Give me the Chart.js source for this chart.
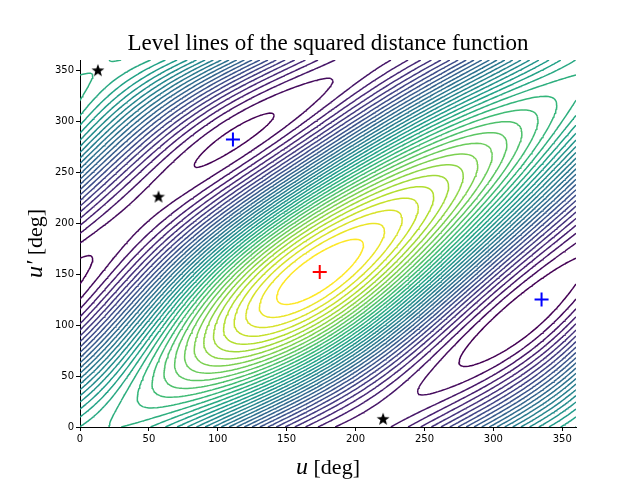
<!DOCTYPE html>
<html><head><meta charset="utf-8">
<script src="https://cdn.jsdelivr.net/npm/chart.js@4/dist/chart.umd.min.js"></script>
<style>html,body{margin:0;background:#fff}#c{width:640px;height:480px}</style>
</head><body><div id="c"><canvas id="cv" width="640" height="480"></canvas></div>
<script>
// ---- data ----
const chartTitle = "Level lines of the squared distance function";
const xTicks = [0,50,100,150,200,250,300,350];
const yTicks = [0,50,100,150,200,250,300,350];
// weights and phases (deg) of the harmonic terms of the distance function
const termWeights = [1.0, 0.26, 0.22, 0.05];
const termPhases  = [22, 184, 163, 250];
const nLevels = 36;
const maxPoint = [[174,152]];
const minPoints = [[111,282],[335,125]];
const starPoints = [[13,350],[57,226],[220,8]];

const D = Math.PI/180;
function f(u,v){
  return termWeights[0]*(1+Math.cos((u-v-termPhases[0])*D))
       + termWeights[1]*(1+Math.cos((u-termPhases[1])*D))
       + termWeights[2]*(1+Math.cos((v-termPhases[2])*D))
       + termWeights[3]*(1+Math.cos((u+v-termPhases[3])*D));
}
const N=181, step=2;
const G=[]; let fmin=1e9,fmax=-1e9;
for(let i=0;i<N;i++){G.push([]);for(let j=0;j<N;j++){const z=f(i*step,j*step);G[i].push(z);fmin=Math.min(fmin,z);fmax=Math.max(fmax,z);}}
const vir=[[68,1,84],[72,40,120],[62,74,137],[49,104,142],[38,130,142],[31,158,137],[53,183,121],[109,205,89],[180,222,44],[253,231,37]];
function viridis(t){t=Math.max(0,Math.min(1,t));const p=t*(vir.length-1),k=Math.min(vir.length-2,Math.floor(p)),r=p-k;
  const c=vir[k].map((a,m)=>Math.round(a+(vir[k+1][m]-a)*r));return `rgb(${c[0]},${c[1]},${c[2]})`;}
const datasets=[];
for(let L=1;L<=nLevels;L++){
  const lv=fmin+(fmax-fmin)*L/(nLevels+1);
  const pts=[];
  for(let i=0;i<N-1;i++)for(let j=0;j<N-1;j++){
    const a=G[i][j],b=G[i+1][j],c=G[i+1][j+1],d=G[i][j+1];
    const x0=i*step,y0=j*step,x1=x0+step,y1=y0+step;
    const cr=[];
    const e=(p,q,P,Q)=>{if((p<lv)!==(q<lv)){const t=(lv-p)/(q-p);cr.push({x:P[0]+(Q[0]-P[0])*t,y:P[1]+(Q[1]-P[1])*t});}};
    e(a,b,[x0,y0],[x1,y0]);e(b,c,[x1,y0],[x1,y1]);e(c,d,[x1,y1],[x0,y1]);e(d,a,[x0,y1],[x0,y0]);
    for(let k=0;k+1<cr.length;k+=2){pts.push(cr[k],cr[k+1],{x:null,y:null});}
  }
  const col=viridis((L-1)/(nLevels-1));
  datasets.push({type:'scatter',data:pts,showLine:true,spanGaps:false,borderColor:col,borderWidth:1.5,pointRadius:0,order:2});
}
function starImg(){const c=document.createElement('canvas');c.width=c.height=14;const g=c.getContext('2d');g.fillStyle='#000';g.beginPath();
  for(let k=0;k<10;k++){const r=k%2?2.8:6.8,a=-Math.PI/2+k*Math.PI/5;g.lineTo(7+r*Math.cos(a),7.5+r*Math.sin(a));}g.closePath();g.fill();return c;}
const toXY=a=>a.map(p=>({x:p[0],y:p[1]}));
datasets.push({type:'scatter',data:toXY(maxPoint),pointStyle:'cross',pointRadius:7,borderColor:'red',borderWidth:2,order:0});
datasets.push({type:'scatter',data:toXY(minPoints),pointStyle:'cross',pointRadius:7,borderColor:'blue',borderWidth:2,order:0});
datasets.push({type:'scatter',data:toXY(starPoints),pointStyle:starImg(),order:0});

const deco={id:'deco',afterDraw(ch){const g=ch.ctx,ca=ch.chartArea;g.save();g.fillStyle='#000';g.textAlign='center';g.textBaseline='alphabetic';
  g.font='23px "Liberation Serif"';g.fillText(chartTitle,(ca.left+ca.right)/2,50);
  const lab=(x,y,rot,main)=>{g.save();g.translate(x,y);g.rotate(rot);
    g.font='italic 24px "Liberation Serif"';const w1=g.measureText(main).width;g.font='22px "Liberation Serif"';const w2=g.measureText(' [deg]').width;
    let s=-(w1+w2)/2;g.textAlign='left';g.font='italic 24px "Liberation Serif"';g.fillText(main,s,0);g.font='22px "Liberation Serif"';g.fillText(' [deg]',s+w1,0);g.restore();};
  lab((ca.left+ca.right)/2,474,0,'u');
  lab(42,(ca.top+ca.bottom)/2,-Math.PI/2,'u\u2032');
  g.restore();}};
const tk={color:'#000',font:{family:'DejaVu Sans',size:10},maxRotation:0,autoSkip:false,padding:2};
const gr={display:true,drawOnChartArea:false,drawTicks:true,tickLength:4,color:'#000'};
new Chart(document.getElementById('cv'),{data:{datasets},plugins:[deco],
 options:{responsive:false,animation:false,events:[],
  layout:{padding:{top:60,right:64,left:0,bottom:0}},
  plugins:{legend:{display:false},tooltip:{enabled:false}},
  scales:{
   x:{type:'linear',min:0,max:360,afterBuildTicks:s=>{s.ticks=xTicks.map(v=>({value:v}))},ticks:tk,
      grid:gr,border:{color:'#000',width:1},afterFit:s=>{s.height=53}},
   y:{type:'linear',min:0,max:360,afterBuildTicks:s=>{s.ticks=yTicks.map(v=>({value:v}))},ticks:tk,
      grid:gr,border:{color:'#000',width:1},afterFit:s=>{s.width=80}}
  }}});
</script></body></html>
